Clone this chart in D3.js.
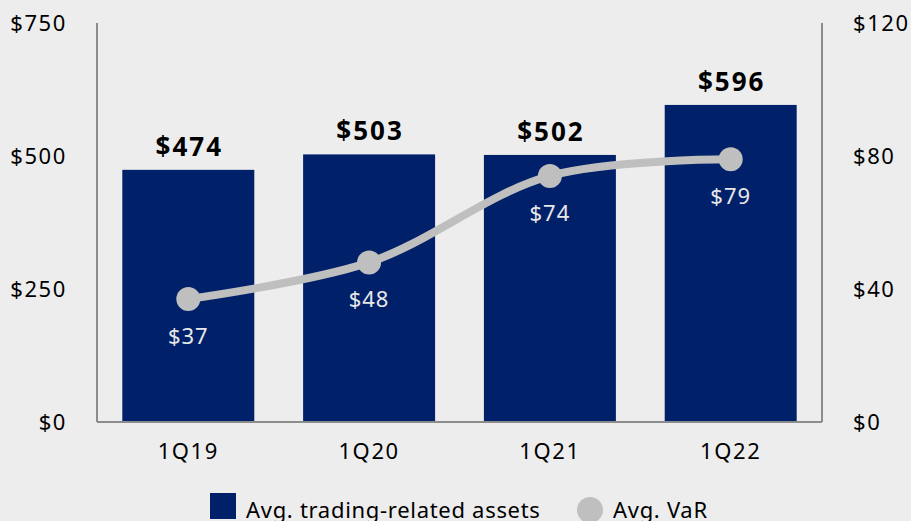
<!DOCTYPE html>
<html>
<head>
<meta charset="utf-8">
<script src="https://cdn.jsdelivr.net/npm/d3@7"></script>
<style>
  html, body { margin: 0; padding: 0; background: #ededed; }
  svg { display: block; font-family: "Noto Sans", "Open Sans", sans-serif; }
</style>
</head>
<body>
<svg id="chart" width="911" height="521"></svg>
<script>
// Quarterly averages: trading-related assets (left axis) and VaR (right axis), $ in billions / millions
const quarters = ["1Q19", "1Q20", "1Q21", "1Q22"];
const tradingAssets = [474, 503, 502, 596];
const avgVaR = [37, 48, 74, 79];
const leftTicks = [0, 250, 500, 750];
const rightTicks = [0, 40, 80, 120];
const legendLabels = ["Avg. trading-related assets", "Avg. VaR"];

const W = 911, H = 521;
const m = { left: 97, right: 89, top: 23, bottom: 99 };
const svg = d3.select("#chart");

const BAR = "#002169";
const LINE = "#bfbfbf";
const AXIS = "#8c8c8c";

const x = d3.scaleBand().domain(quarters)
  .range([m.left, W - m.right]).paddingInner(0.27).paddingOuter(0.14);
const yL = d3.scaleLinear().domain([0, 750]).range([H - m.bottom, m.top]);
const yR = d3.scaleLinear().domain([0, 120]).range([H - m.bottom, m.top]);

// bars
svg.append("g").selectAll("rect").data(quarters).join("rect")
  .attr("x", d => x(d))
  .attr("y", (d, i) => yL(tradingAssets[i]))
  .attr("width", x.bandwidth())
  .attr("height", (d, i) => yL(0) - yL(tradingAssets[i]))
  .attr("fill", BAR);

// bar value labels
svg.append("g").selectAll("text").data(quarters).join("text")
  .attr("x", d => x(d) + x.bandwidth() / 2 + 1)
  .attr("y", (d, i) => yL(tradingAssets[i]) - 14)
  .attr("text-anchor", "middle")
  .attr("font-size", 26).attr("font-weight", "bold").attr("fill", "#000")
  .attr("letter-spacing", 2)
  .text((d, i) => "$" + tradingAssets[i]);

// axes
const axisL = d3.axisLeft(yL).tickValues(leftTicks).tickSize(0).tickPadding(30).tickFormat(d => "$" + d);
const axisR = d3.axisRight(yR).tickValues(rightTicks).tickSize(0).tickPadding(31).tickFormat(d => "$" + d);
const axisB = d3.axisBottom(x).tickSize(0).tickPadding(21);

function styleAxis(g) {
  g.select(".domain").attr("stroke", AXIS).attr("stroke-width", 2);
  g.selectAll("text").attr("font-size", 22).attr("fill", "#000")
    .attr("letter-spacing", 1.6)
    .attr("font-family", "\"Noto Sans\", \"Open Sans\", sans-serif");
}

svg.append("g").attr("transform", `translate(${m.left},0)`).call(axisL).call(styleAxis)
  .select(".domain").attr("d", `M0,${m.top}V${H - m.bottom}`);
svg.append("g").attr("transform", `translate(${W - m.right},0)`).call(axisR).call(styleAxis)
  .select(".domain").attr("d", `M0,${m.top}V${H - m.bottom}`);
svg.append("g").attr("transform", `translate(0,${H - m.bottom})`).call(axisB).call(styleAxis)
  .select(".domain").attr("d", `M${m.left},0H${W - m.right}`);

// VaR line
const cx = d => x(d) + x.bandwidth() / 2;
const line = d3.line()
  .x((d, i) => cx(quarters[i]))
  .y(d => yR(d))
  .curve(d3.curveCatmullRom.alpha(0.5));

svg.append("path").datum(avgVaR)
  .attr("d", line).attr("fill", "none")
  .attr("stroke", LINE).attr("stroke-width", 8);

svg.append("g").selectAll("circle").data(avgVaR).join("circle")
  .attr("cx", (d, i) => cx(quarters[i]))
  .attr("cy", d => yR(d))
  .attr("r", 12).attr("fill", LINE);

svg.append("g").selectAll("text").data(avgVaR).join("text")
  .attr("x", (d, i) => cx(quarters[i]))
  .attr("y", d => yR(d) + 45)
  .attr("text-anchor", "middle")
  .attr("font-size", 22).attr("fill", "#e8e8e8")
  .attr("letter-spacing", 1)
  .text(d => "$" + d);

// legend
const lg = svg.append("g");
lg.append("rect").attr("x", 210).attr("y", 493).attr("width", 26).attr("height", 26).attr("fill", BAR);
lg.append("text").attr("x", 246).attr("y", 518).attr("font-size", 22).attr("fill", "#000")
  .attr("letter-spacing", 0.7).text(legendLabels[0]);
lg.append("circle").attr("cx", 590).attr("cy", 510).attr("r", 13).attr("fill", LINE);
lg.append("text").attr("x", 613).attr("y", 518).attr("font-size", 22).attr("fill", "#000")
  .attr("letter-spacing", 0.7).text(legendLabels[1]);
</script>
</body>
</html>
